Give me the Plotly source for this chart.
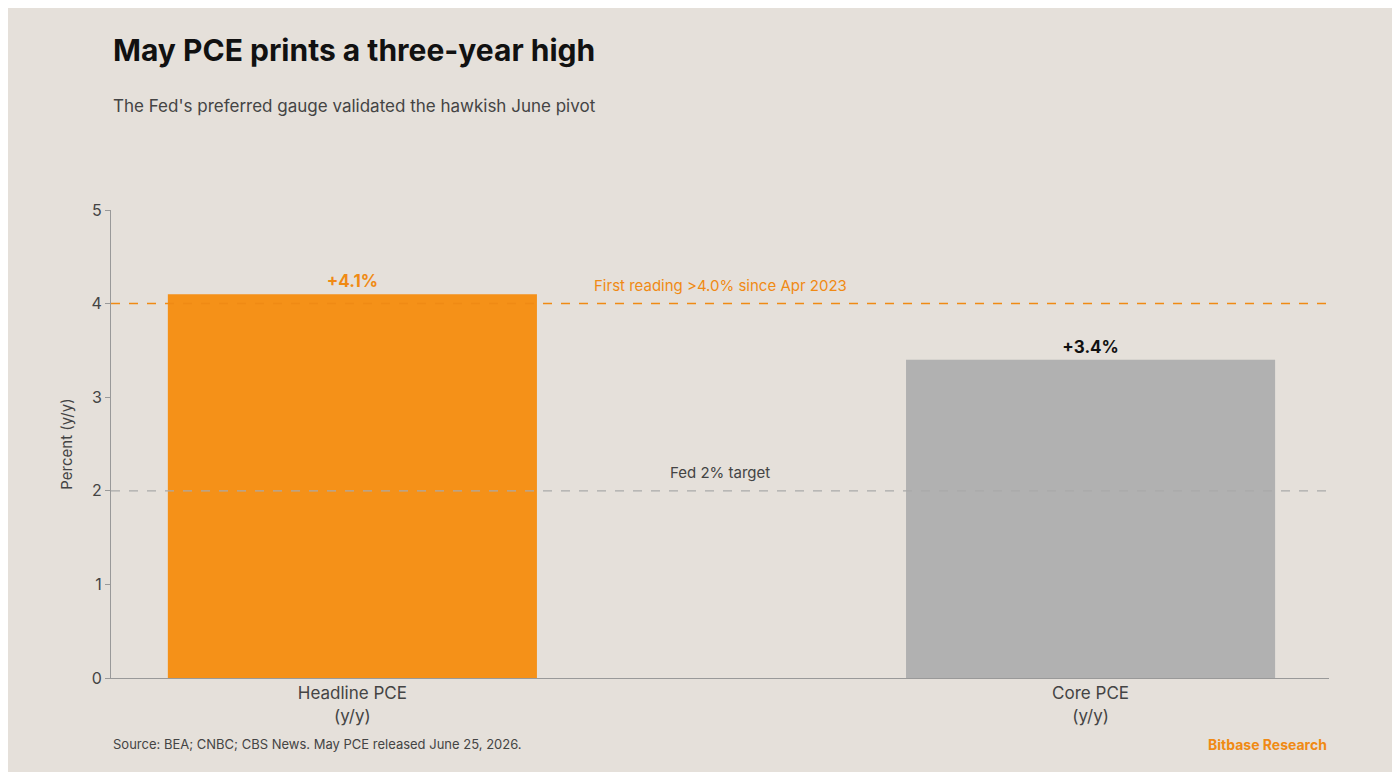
import plotly.graph_objects as go

# data
categories = ["Headline PCE<br>(y/y)", "Core PCE<br>(y/y)"]
values = [4.1, 3.4]
labels = ["+4.1%", "+3.4%"]
bar_colors = ["#F59118", "#B1B1B1"]
label_colors = ["#F08A14", "#111111"]
fed_target = 2.0
high_line = 4.0

BG = "#E5E0DA"
FONT = "Inter"

fig = go.Figure()
fig.add_trace(go.Bar(
    x=categories, y=values, width=0.5,
    marker=dict(color=bar_colors, line=dict(width=0)),
    text=labels, textposition="outside",
    textfont=dict(family=FONT, size=17, color=label_colors, weight="bold"),
    cliponaxis=False, hoverinfo="skip",
))

fig.add_hline(y=high_line, line=dict(color="#F08A14", width=1.5, dash="dash"))
fig.add_hline(y=fed_target, line=dict(color="#A9A9A9", width=1.2, dash="dash"))
fig.add_annotation(x=0.5, y=high_line, xref="paper", yref="y", yshift=18,
                   text="First reading >4.0% since Apr 2023", showarrow=False,
                   font=dict(family=FONT, size=15, color="#F08A14"))
fig.add_annotation(x=0.5, y=fed_target, xref="paper", yref="y", yshift=18,
                   text="Fed 2% target", showarrow=False,
                   font=dict(family=FONT, size=15, color="#444444"))

fig.add_annotation(x=0, y=1.342, xref="paper", yref="paper", xanchor="left", yanchor="middle",
                   text="<b>May PCE prints a three-year high</b>", showarrow=False,
                   font=dict(family=FONT, size=30, color="#111111"))
fig.add_annotation(x=0, y=1.222, xref="paper", yref="paper", xanchor="left", yanchor="middle",
                   text="The Fed's preferred gauge validated the hawkish June pivot",
                   showarrow=False, font=dict(family=FONT, size=17, color="#444444"))
fig.add_annotation(x=0, y=0, xref="paper", yref="paper", xanchor="left", yanchor="middle",
                   yshift=-66, text="Source: BEA; CNBC; CBS News. May PCE released June 25, 2026.",
                   showarrow=False, font=dict(family=FONT, size=13, color="#444444"))
fig.add_annotation(x=1, y=0, xref="paper", yref="paper", xanchor="right", yanchor="middle",
                   yshift=-66, text="<b>Bitbase Research</b>", showarrow=False,
                   font=dict(family=FONT, size=14, color="#F08A14"))

fig.update_layout(
    width=1384, height=764,
    paper_bgcolor=BG, plot_bgcolor=BG,
    margin=dict(l=103, r=63, t=202, b=94),
    showlegend=False,
    font=dict(family=FONT, color="#444444"),
    xaxis=dict(range=[-0.327, 1.323], showline=True, linecolor="#999999",
               tickfont=dict(size=17, color="#444444"), ticks=""),
    yaxis=dict(range=[0, 5], dtick=1, showgrid=False, zeroline=False,
               showline=True, linecolor="#999999", ticks="outside", ticklen=5,
               tickcolor="#999999", tickfont=dict(size=16, color="#444444"),
               title=dict(text="Percent (y/y)", font=dict(size=15, color="#444444"))),
)

fig.write_html("out.html")
